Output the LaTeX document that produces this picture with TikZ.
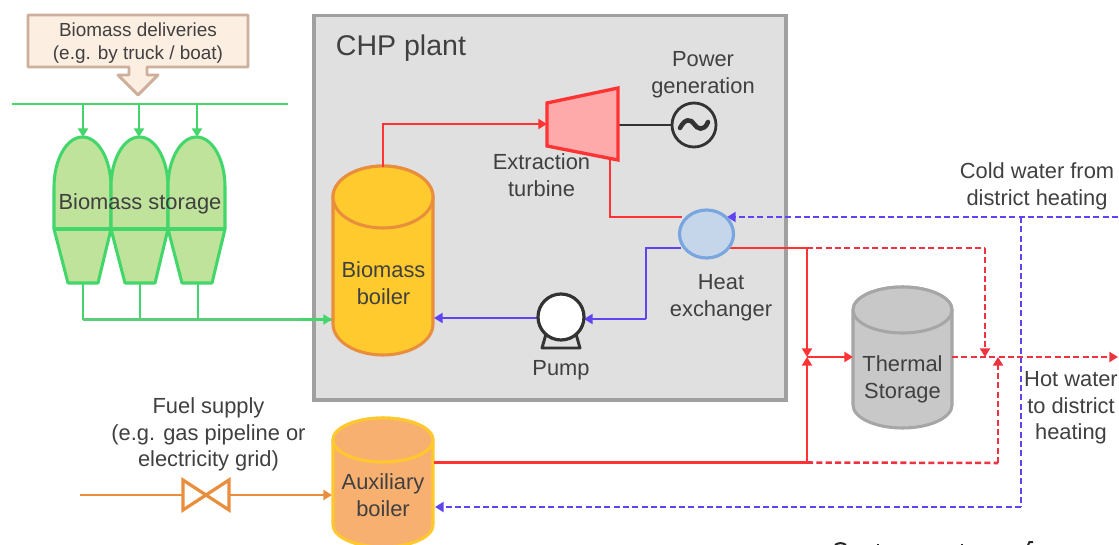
\documentclass[tikz,border=0pt]{standalone}
\usepackage{fontspec}
\setmainfont{Liberation Sans}
\usetikzlibrary{arrows.meta,calc}
\definecolor{txt}{HTML}{404040}
\definecolor{grn}{HTML}{43D66B}
\definecolor{grnline}{HTML}{5CCB7A}
\definecolor{grnfill}{HTML}{C0E39B}
\definecolor{redl}{HTML}{FF3333}
\definecolor{redd}{HTML}{EE3340}
\definecolor{blu}{HTML}{6044F2}
\definecolor{orng}{HTML}{E98E3C}
\definecolor{framec}{HTML}{A0A0A0}
\definecolor{framef}{HTML}{E0E0E0}
\definecolor{delivd}{HTML}{CDB09C}
\definecolor{delivf}{HTML}{FDEEE2}
\definecolor{boilf}{HTML}{FFCA2E}
\definecolor{auxf}{HTML}{F8B070}
\definecolor{auxd}{HTML}{FFC82E}
\definecolor{tankf}{HTML}{C8C8C8}
\definecolor{tankd}{HTML}{A6A6A6}
\definecolor{turbf}{HTML}{FFAAAA}
\definecolor{hxd}{HTML}{7AA6E0}
\definecolor{hxf}{HTML}{C5D5EA}
\definecolor{dk}{HTML}{333333}
\tikzset{
  x=0.75pt,y=-0.75pt,
  lbl/.style={text=txt,align=center,inner sep=0pt,font=\fontsize{16.4}{19.9}\selectfont},
  lblsmall/.style={text=txt,align=center,inner sep=0pt,font=\fontsize{14.2}{17.4}\selectfont},
  tip/.style={-{Triangle[length=6.5pt,width=7.5pt]}},
  pipe/.style={line width=1.9pt},
  dashpipe/.style={line width=1.9pt,dash pattern=on 4.6pt off 2.4pt},
  hotpipe/.style={pipe,redl},
  hotdash/.style={dashpipe,redd},
  coldpipe/.style={pipe,blu},
  colddash/.style={dashpipe,blu},
  greenpipe/.style={pipe,grn},
}
% #1 left x, #2 right x, #3 ellipse centre y, #4 radius y, #5 lower arc centre y, #6 style
\newcommand{\tankshape}[6]{%
  \pgfmathsetmacro{\rxv}{(#2-#1)/2}
  \pgfmathsetmacro{\cxv}{(#1+#2)/2}
  \path[#6] (#1,#3) -- (#1,#5) arc[start angle=180,end angle=0,x radius=\rxv,y radius=#4]
     -- (#2,#3) arc[start angle=0,end angle=-180,x radius=\rxv,y radius=#4] -- cycle;
  \path[#6] (\cxv,#3) ellipse[x radius=\rxv,y radius=#4];
}
% #1 left x
\newcommand{\siloshape}[1]{%
  \path[draw=grn,fill=grnfill,line width=2.3pt,line join=round]
    (#1,187) arc[start angle=180,end angle=360,x radius=28.5,y radius=50] -- ($(#1,229)+(57,0)$)
    -- ($(#1,283)+(44,0)$) -- ($(#1,283)+(14,0)$) -- (#1,229) -- cycle;
  \draw[grn,line width=2.3pt] (#1,229) -- ($(#1,229)+(57,0)$);
}
\begin{document}
\begin{tikzpicture}
\useasboundingbox (0,0) rectangle (1119,545);
\clip (0,0) rectangle (1119,545);

% plant frame
\path[fill=white] (0,0) rectangle (1119,545);
\path[draw=framec,fill=framef,line width=2.4pt] (314,15.5) rectangle (786,400);

% named connection points
\coordinate (barL) at (12,104);  \coordinate (barR) at (288,104);
\coordinate (b1) at (83,104);    \coordinate (b2) at (139,104);   \coordinate (b3) at (197,104);
\coordinate (s1) at (83,137);    \coordinate (s2) at (139,137);   \coordinate (s3) at (197,137);
\coordinate (o1) at (83,283);    \coordinate (o2) at (140,283);   \coordinate (o3) at (198,283);
\coordinate (j1) at (83,319.5);  \coordinate (j2) at (140,319.5); \coordinate (j3) at (198,319.5);
\coordinate (boilW) at (332,319.5);
\coordinate (boilT) at (383,167);
\coordinate (boilE) at (434,318);
\coordinate (turbW) at (547,124);
\coordinate (turbE) at (618,125);
\coordinate (turbS) at (610,157);
\coordinate (genW) at (672,125);
\coordinate (hxNW) at (682,217);
\coordinate (hxNE) at (727,217);
\coordinate (hxSW) at (681,248);
\coordinate (hxSE) at (730,248);
\coordinate (pumpW) at (538,318);
\coordinate (pumpE) at (584,319);
\coordinate (coldIn) at (1118,217);
\coordinate (coldDn) at (1021,217);
\coordinate (coldBt) at (1021,507);
\coordinate (auxE) at (435,507);
\coordinate (auxHot) at (434,462.5);
\coordinate (fuelIn) at (80,495);
\coordinate (valveW) at (183,495);
\coordinate (valveE) at (229,495);
\coordinate (auxW) at (332,495);
\coordinate (hotA) at (807,248);
\coordinate (hotB) at (807,462.5);
\coordinate (hotM) at (807,357);
\coordinate (tankW) at (853,357);
\coordinate (tankE) at (952,357);
\coordinate (dashA) at (985,248);
\coordinate (dashAe) at (985,357);
\coordinate (dashB) at (998,463);
\coordinate (dashBe) at (998,357);
\coordinate (hotOut) at (1118,357);

% green pipes
\draw[greenpipe] (barL) -- (barR);
\foreach \i in {1,2,3} \draw[greenpipe,tip] (b\i) -- (s\i);
\foreach \i in {1,2,3} \draw[greenpipe] (o\i) -- (j\i);
\draw[pipe,grnline] (j1) -- (boilW);
\draw[pipe,grn,tip] (300,319.5) -- (boilW);

% silos
\siloshape{54}
\siloshape{111}
\siloshape{168}

% deliveries callout
\path[draw=delivd,fill=delivf,line width=2.2pt,line join=round]
  (28,15) -- (248,15) -- (248,67) -- (147,67) -- (147,75) -- (158,75) -- (138,95) -- (118,75)
  -- (129,75) -- (129,67) -- (28,67) -- cycle;

% boiler
\tankshape{333}{433}{197}{31}{324}{draw=orng,fill=boilf,line width=2.3pt}
% auxiliary boiler
\tankshape{333}{433}{440}{22}{525}{draw=auxd,fill=auxf,line width=2.3pt}
% thermal storage
\tankshape{853}{952}{310}{23}{405}{draw=tankd,fill=tankf,line width=2.3pt}

% hot water pipes
\draw[hotpipe] (boilT) -- (boilT |- turbW) -- (480,124);
\draw[hotpipe,tip] (480,124) -- (turbW);
\draw[hotpipe] (turbS) -- (turbS |- hxNW) -- (hxNW);
\draw[hotpipe] (hxSE) -- (hotA);
\draw[hotpipe,tip] (hotA) -- (hotM);
\draw[hotpipe,tip] (hotB) -- (hotM);
\draw[hotpipe,tip] (hotM) -- (tankW);
\draw[hotpipe] (auxHot) -- (hotB);
\draw[hotdash] (hotA) -- (dashA);
\draw[hotdash,tip] (dashA) -- (dashAe);
\draw[hotdash] (hotB) -- (dashB);
\draw[hotdash,tip] (dashB) -- (dashBe);

% cold water pipes
\draw[colddash,tip] (coldIn) -- (hxNE);
\draw[colddash] (coldDn) -- (coldBt);
\draw[colddash,tip] (coldBt) -- (auxE);
\draw[hotdash,tip] (tankE) -- (hotOut);
\draw[coldpipe] (hxSW) -- (646,248) -- (646,319);
\draw[coldpipe,tip] (646,319) -- (pumpE);
\draw[coldpipe,tip] (pumpW) -- (boilE);

% turbine and generator
\draw[dk,line width=1.9pt] (turbE) -- (genW);
\path[draw=redl,fill=turbf,line width=2.5pt,line join=miter]
  (547,103) -- (618,88) -- (618,160) -- (547,146) -- cycle;
\draw[dk,line width=2.1pt] (694,125) circle[radius=22];
\draw[dk,line width=3.4pt,line cap=round]
  (680,128) .. controls (685,118) and (691,119) .. (694,124) .. controls (697,129) and (704,132) .. (708,122);

% heat exchanger
\path[draw=hxd,fill=hxf,line width=2.4pt] (706.5,234) ellipse[x radius=27,y radius=24];

% pump
\draw[dk,line width=2.2pt,line join=round] (546,334) -- (542,348) -- (580,348) -- (576,334);
\draw[dk,line width=2.4pt,fill=white] (561,317) circle[radius=23];

% valve
\draw[orng,line width=1.9pt] (fuelIn) -- (valveW);
\draw[orng,line width=1.9pt,tip] (valveE) -- (auxW);
\draw[orng,line width=2.4pt,line join=miter] (183,480) -- (229,510) -- (229,480) -- (183,510) -- cycle;

% labels
\node[lblsmall] (deliv) at (138,43) {Biomass deliveries\\(e.g. by truck / boat)};
\node[lbl] (store) at (140,204) {Biomass storage};
\node[text=txt,inner sep=0pt,font=\fontsize{21.4}{25}\selectfont] (chp) at (401,48.5) {CHP plant};
\node[lbl] (power) at (703,74.5) {Power\\generation};
\node[lbl] (extr) at (541.5,175) {Extraction\\turbine};
\node[lbl] (heat) at (721,297.5) {Heat\\exchanger};
\node[lbl] (bboil) at (383.5,283) {Biomass\\boiler};
\node[lbl] (pumpl) at (561,370) {Pump};
\node[lbl] (therm) at (902.5,379.5) {Thermal\\Storage};
\node[lbl] (cold) at (1037,186.5) {Cold water from\\district heating};
\node[lbl] (hot) at (1071,408) {Hot water\\to district\\heating};
\node[lbl] (fuel) at (208.5,434.5) {Fuel supply\\(e.g. gas pipeline or\\electricity grid)};
\node[lbl] (aux) at (383,495) {Auxiliary\\boiler};

% tops of the letters cut off by the lower edge
\draw[black!85,line width=1.5pt] (835,545) .. controls (838,542.5) and (843,542.5) .. (846,545);
\draw[black!85,line width=1.5pt] (878,544) -- (878,545);
\draw[black!85,line width=1.5pt] (962,544) -- (962,545);
\draw[black!85,line width=1.5pt] (1028,545) .. controls (1028,542) and (1030,541.5) .. (1033,542);
\end{tikzpicture}
\end{document}
